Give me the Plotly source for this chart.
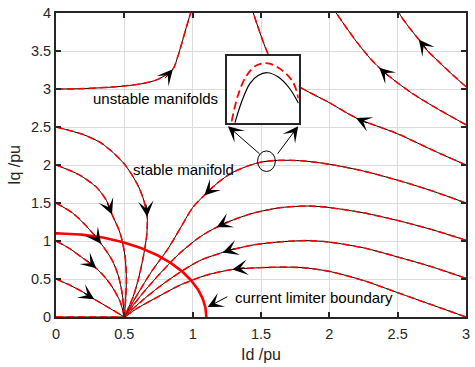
import math
import numpy as np
import plotly.graph_objects as go

# ---- phase-plane trajectories (Id, Iq), each listed in the direction of motion ----
# trajectories starting on the Iq axis and converging to the stable node
l1_id = [0.0, 0.1, 0.2, 0.28, 0.36, 0.43, 0.5]
l1_iq = [0.5, 0.42, 0.325, 0.235, 0.15, 0.075, 0.0]
l2_id = [0.0, 0.1, 0.2, 0.295, 0.36, 0.42, 0.47, 0.5]
l2_iq = [1.0, 0.9, 0.77, 0.64, 0.52, 0.37, 0.2, 0.0]
l3_id = [0.0, 0.12, 0.22, 0.33, 0.41, 0.455, 0.485, 0.5]
l3_iq = [1.5, 1.37, 1.2, 0.965, 0.75, 0.55, 0.3, 0.0]
l4_id = [0.0, 0.17, 0.3, 0.37, 0.41, 0.47, 0.505, 0.515, 0.51, 0.5]
l4_iq = [2.0, 1.87, 1.7, 1.53, 1.35, 1.1, 0.8, 0.5, 0.25, 0.0]
l5_id = [0.0, 0.2, 0.33, 0.42, 0.51, 0.6, 0.645, 0.667, 0.665, 0.645, 0.61, 0.565, 0.5]
l5_iq = [2.5, 2.4, 2.29, 2.16, 1.99, 1.73, 1.52, 1.32, 1.1, 0.85, 0.55, 0.27, 0.0]

# trajectories entering from the right edge and converging to the node
s_id = [3.0, 2.75, 2.5, 2.25, 2.0, 1.8, 1.62, 1.48, 1.29, 1.18, 1.085, 1.0, 0.92, 0.82, 0.7, 0.6, 0.5]
s_iq = [1.5, 1.66, 1.8, 1.92, 2.01, 2.055, 2.06, 2.03, 1.9, 1.76, 1.6, 1.44, 1.2, 0.9, 0.6, 0.31, 0.0]
r2_id = [3.0, 2.75, 2.5, 2.25, 2.0, 1.85, 1.65, 1.45, 1.3, 1.175, 1.05, 0.9, 0.75, 0.62, 0.5]
r2_iq = [1.01, 1.15, 1.27, 1.37, 1.44, 1.46, 1.44, 1.37, 1.28, 1.18, 1.05, 0.83, 0.55, 0.28, 0.0]
r1_id = [3.0, 2.75, 2.5, 2.25, 2.0, 1.85, 1.65, 1.45, 1.32, 1.22, 1.05, 0.9, 0.75, 0.62, 0.5]
r1_iq = [0.51, 0.66, 0.79, 0.91, 0.985, 1.005, 0.99, 0.95, 0.9, 0.85, 0.74, 0.58, 0.39, 0.2, 0.0]
r0_id = [3.0, 2.75, 2.5, 2.25, 2.0, 1.8, 1.6, 1.45, 1.29, 1.1, 0.92, 0.75, 0.6, 0.5]
r0_iq = [0.0, 0.16, 0.32, 0.48, 0.6, 0.65, 0.655, 0.645, 0.625, 0.55, 0.43, 0.27, 0.12, 0.0]
r00_id = [0.0, 0.5]
r00_iq = [0.0, 0.0]

# diverging trajectories (unstable manifolds)
a_id = [3.0, 2.9, 2.8, 2.72, 2.655, 2.58, 2.52, 2.5]
a_iq = [3.03, 3.19, 3.36, 3.5, 3.65, 3.82, 3.97, 4.05]
b_id = [3.0, 2.8, 2.6, 2.45, 2.365, 2.3, 2.2, 2.12, 2.05]
b_iq = [2.53, 2.73, 2.95, 3.15, 3.28, 3.4, 3.62, 3.82, 4.0]
c_id = [3.0, 2.75, 2.5, 2.195, 2.0, 1.78, 1.64, 1.56, 1.5, 1.44]
c_iq = [2.0, 2.2, 2.41, 2.62, 2.82, 3.03, 3.22, 3.43, 3.7, 4.02]
d_id = [0.0, 0.2, 0.44, 0.63, 0.75, 0.855, 0.89, 0.925, 0.955, 0.985]
d_iq = [3.0, 3.005, 3.03, 3.07, 3.13, 3.26, 3.42, 3.63, 3.82, 4.0]

# index of the point carrying the direction arrow on each trajectory
curves = [
    (l1_id, l1_iq, 3), (l2_id, l2_iq, 3), (l3_id, l3_iq, 3),
    (l4_id, l4_iq, 4), (l5_id, l5_iq, 7),
    (s_id, s_iq, 10), (r2_id, r2_iq, 9), (r1_id, r1_iq, 9), (r0_id, r0_iq, 8),
    (r00_id, r00_iq, None),
    (a_id, a_iq, 4), (b_id, b_iq, 4), (c_id, c_iq, 3), (d_id, d_iq, 5),
]

# current limiter radius (pu)
i_max = 1.1

# zoomed view around the top of the stable manifold (normalised inset coordinates)
zoom_exact_u = [0.107, 0.2, 0.315, 0.43, 0.56, 0.71, 0.87, 0.996]
zoom_exact_v = [0.01, 0.32, 0.59, 0.71, 0.75, 0.69, 0.52, 0.30]
zoom_approx_u = [0.06, 0.15, 0.27, 0.41, 0.57, 0.75, 0.92, 0.996]
zoom_approx_v = [0.03, 0.42, 0.71, 0.86, 0.89, 0.80, 0.61, 0.37]

# magnified spot on the stable manifold and arrows linking it to the inset
spot_id, spot_iq = 1.54, 2.05
spot_rx, spot_ry = 0.065, 0.135
link_tail_id = [1.50, 1.614]
link_tail_iq = [2.13, 2.13]
link_tip_id = [1.258, 1.772]
link_tip_iq = [2.51, 2.51]

# limiter label and its pointer
limiter_label_pos = (1.89, 0.255)
limiter_tail = (1.264, 0.277)
limiter_tip = (1.11, 0.13)

x_ticks = [0, 0.5, 1, 1.5, 2, 2.5, 3]
y_ticks = [0, 0.5, 1, 1.5, 2, 2.5, 3, 3.5, 4]

W, H = 475, 367
ML, MR, MT, MB = 56, 5, 6, 50
PX = (W - ML - MR) / 3.0
PY = (H - MT - MB) / 4.0

FONT = "Liberation Sans, Arial, Helvetica, sans-serif"
INK = "#262626"

fig = go.Figure()

for xs, ys, _ in curves:
    fig.add_trace(go.Scatter(x=xs, y=ys, mode="lines", line=dict(color="black", width=1, shape="spline", smoothing=0.8),
                             hoverinfo="skip", showlegend=False))
    fig.add_trace(go.Scatter(x=xs, y=ys, mode="lines",
                             line=dict(color="#ff0000", width=1.6, dash="7px,4px", shape="spline", smoothing=0.8),
                             hoverinfo="skip", showlegend=False))

theta = np.linspace(0, np.pi / 2, 120)
fig.add_trace(go.Scatter(x=i_max * np.cos(theta), y=i_max * np.sin(theta), mode="lines",
                         line=dict(color="#ff0000", width=2.6), hoverinfo="skip", showlegend=False))

# inset
fig.add_trace(go.Scatter(x=zoom_exact_u, y=zoom_exact_v, xaxis="x2", yaxis="y2", mode="lines",
                         line=dict(color="black", width=1.2, shape="spline"), hoverinfo="skip", showlegend=False))
fig.add_trace(go.Scatter(x=zoom_approx_u, y=zoom_approx_v, xaxis="x2", yaxis="y2", mode="lines",
                         line=dict(color="#ff0000", width=1.8, dash="8px,4px", shape="spline"),
                         hoverinfo="skip", showlegend=False))

annotations = []


def arrow(tip, tail, size=2.6):
    annotations.append(dict(x=tip[0], y=tip[1], ax=tail[0], ay=tail[1], xref="x", yref="y",
                            axref="x", ayref="y", text="", showarrow=True, arrowhead=3,
                            arrowsize=size, arrowwidth=1, arrowcolor="black"))


for xs, ys, k in curves:
    if k is None:
        continue
    tx, ty = xs[k], ys[k]
    dx = (xs[k + 1] - xs[k - 1]) * PX
    dy = (ys[k + 1] - ys[k - 1]) * PY
    d = math.hypot(dx, dy)
    L = 14.0
    arrow((tx, ty), (tx - dx / d * L / PX, ty - dy / d * L / PY))

for i in range(2):
    arrow((link_tip_id[i], link_tip_iq[i]), (link_tail_id[i], link_tail_iq[i]))
arrow(limiter_tip, limiter_tail)

text_style = dict(xref="x", yref="y", showarrow=False, font=dict(family=FONT, size=15, color="black"))
annotations.append(dict(x=0.73, y=2.87, text="unstable manifolds", **text_style))
annotations.append(dict(x=0.93, y=1.94, text="stable manifold", **text_style))
annotations.append(dict(x=limiter_label_pos[0], y=limiter_label_pos[1], text="current limiter boundary", **text_style))

shapes = [dict(type="circle", xref="x", yref="y", x0=spot_id - spot_rx, x1=spot_id + spot_rx,
               y0=spot_iq - spot_ry, y1=spot_iq + spot_ry, line=dict(color="black", width=1))]

axis_common = dict(showgrid=True, gridcolor="#dcdcdc", gridwidth=1, zeroline=False, showline=True,
                   linecolor=INK, linewidth=1.8, mirror="ticks", ticks="inside", ticklen=5,
                   tickwidth=1.5, tickcolor=INK, ticklabeloverflow="allow",
                   tickfont=dict(family=FONT, size=14.5, color=INK))

fig.update_layout(
    width=W, height=H, margin=dict(l=ML, r=MR, t=MT, b=MB),
    paper_bgcolor="white", plot_bgcolor="white",
    xaxis=dict(range=[0, 3], tickvals=x_ticks, ticktext=[f"{v:g}" for v in x_ticks],
               ticklabelstandoff=3,
               title=dict(text="Id /pu", font=dict(family=FONT, size=16, color=INK), standoff=8),
               **axis_common),
    yaxis=dict(range=[0, 4], tickvals=y_ticks, ticktext=[f"{v:g}" for v in y_ticks],
               title=dict(text="Iq /pu", font=dict(family=FONT, size=16, color=INK), standoff=6),
               **axis_common),
    xaxis2=dict(domain=[0.418, 0.592], range=[0, 1], anchor="y2", showgrid=False, zeroline=False,
                showticklabels=False, ticks="", showline=True, mirror=True, linecolor=INK, linewidth=2),
    yaxis2=dict(domain=[0.637, 0.859], range=[0, 1], anchor="x2", showgrid=False, zeroline=False,
                showticklabels=False, ticks="", showline=True, mirror=True, linecolor=INK, linewidth=2),
    annotations=annotations,
    shapes=shapes,
)

fig.write_html("out.html")
